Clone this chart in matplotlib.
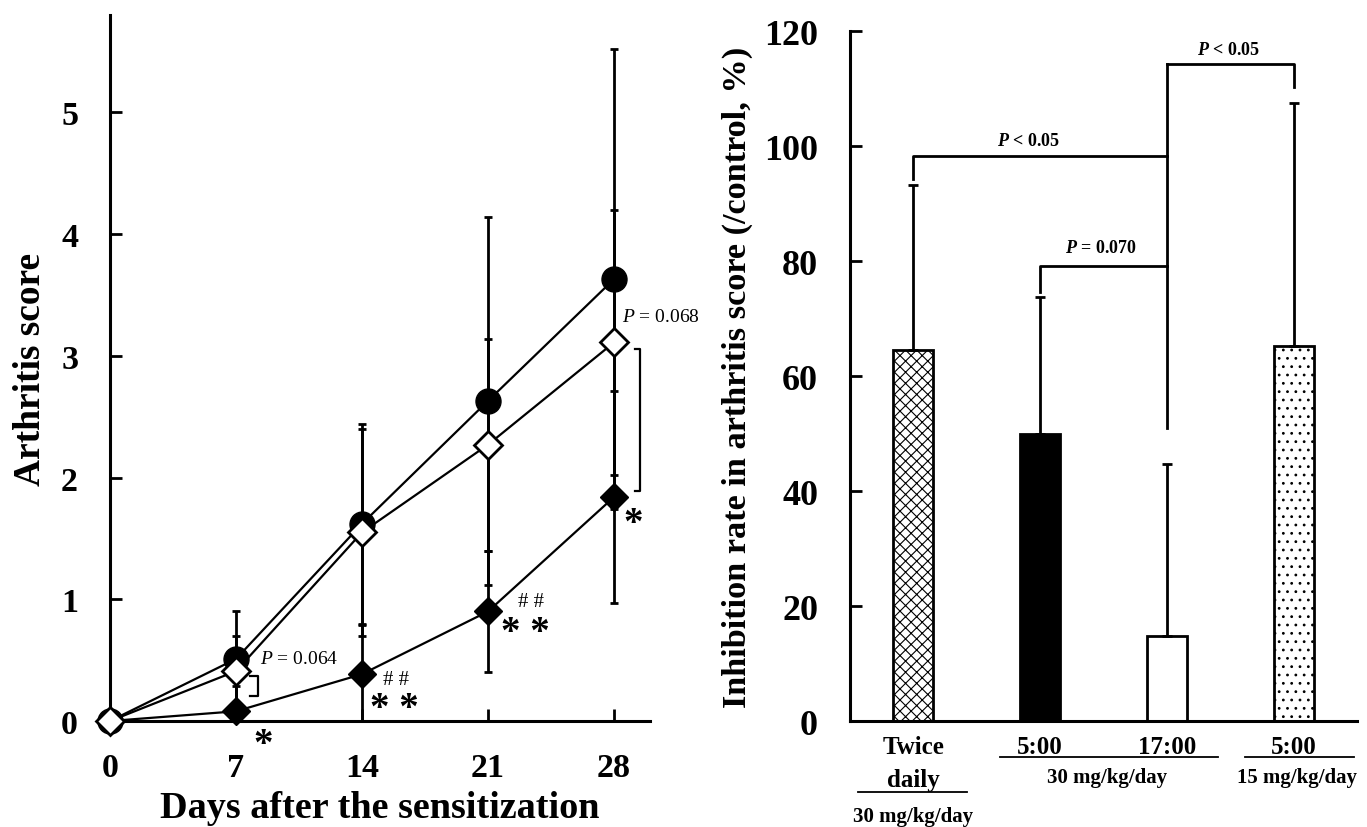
import numpy as np
import matplotlib
matplotlib.use('Agg')
import matplotlib.pyplot as plt
from matplotlib.transforms import blended_transform_factory

plt.rcParams['font.family'] = ['Liberation Serif', 'DejaVu Serif']
plt.rcParams['font.weight'] = 'bold'
plt.rcParams['axes.labelweight'] = 'bold'
plt.rcParams['mathtext.fontset'] = 'custom'
plt.rcParams['mathtext.it'] = 'Liberation Serif:italic:normal'
plt.rcParams['mathtext.bfit'] = 'Liberation Serif:italic:bold'
plt.rcParams['hatch.linewidth'] = 0.8

# left panel: arthritis score over time
days = [0, 7, 14, 21, 28]
score_control = [0, 0.51, 1.62, 2.63, 3.63]
sd_control = [0, 0.39, 0.82, 1.51, 1.89]
score_1700 = [0, 0.41, 1.55, 2.27, 3.11]
sd_1700 = [0, 0.29, 0.85, 0.87, 1.09]
score_0500 = [0, 0.08, 0.385, 0.90, 1.84]
sd_0500 = [0, 0.21, 0.40, 0.50, 0.87]

# right panel: inhibition rate
groups = ['Twice\ndaily', '5:00', '17:00', '5:00']
inhibition = [64.5, 49.9, 14.7, 65.3]
inhibition_sd = [28.7, 23.8, 30.0, 42.2]
bar_colors = ['white', 'black', 'white', 'white']
bar_hatches = ['xxx', None, None, '..']

fig = plt.figure(figsize=(13.67, 8.28), dpi=100)

# ---- left ----
ax1 = fig.add_axes([0.0805, 0.128, 0.395, 0.8527])
for y, e in [(score_control, sd_control), (score_0500, sd_0500), (score_1700, sd_1700)]:
    ax1.errorbar(days, y, yerr=e, fmt='none', ecolor='black', elinewidth=2,
                 capsize=3.2, capthick=2, zorder=2)
ax1.plot(days, score_control, '-o', color='black', ms=18, lw=1.6, zorder=3, clip_on=False)
ax1.plot(days, score_0500, '-D', color='black', ms=14, lw=1.6, zorder=4, clip_on=False)
ax1.plot(days, score_1700, '-D', color='black', mfc='white', mec='black', mew=2,
         ms=14, lw=1.6, zorder=5, clip_on=False)

ax1.set_xlim(0, 30)
ax1.set_ylim(0, 5.8)
ax1.set_xticks(days)
ax1.set_yticks(range(6))
for s in ['top', 'right']:
    ax1.spines[s].set_visible(False)
for s in ['left', 'bottom']:
    ax1.spines[s].set_linewidth(2.2)
ax1.tick_params(axis='both', direction='in', length=8.5, width=2, labelsize=24.5)
ax1.tick_params(axis='x', pad=22)
ax1.tick_params(axis='y', pad=23)
ax1.set_xlabel('Days after the sensitization', fontsize=27.5)
ax1.xaxis.set_label_coords(0.5, -0.123)
ax1.xaxis.label.set_va('center')
ax1.set_ylabel('Arthritis score', fontsize=27)
ax1.yaxis.set_label_coords(-0.148, 0.5)
ax1.yaxis.label.set_va('center')

# significance marks
ax1.text(8.33, 0.51, r'$P$ = 0.064', fontsize=14, fontweight='normal', ha='left', va='center')
ax1.plot([7.78, 8.22, 8.22, 7.78], [0.37, 0.37, 0.205, 0.205], color='black', lw=1.6, clip_on=False)
ax1.text(8.5, -0.19, '*', fontsize=28, ha='center', va='center', clip_on=False)
ax1.text(15.9, 0.345, '# #', fontsize=15, fontweight='normal', ha='center', va='center')
ax1.text(15.8, 0.10, '* *', fontsize=28, ha='center', va='center')
ax1.text(23.4, 0.98, '# #', fontsize=15, fontweight='normal', ha='center', va='center')
ax1.text(23.1, 0.73, '* *', fontsize=28, ha='center', va='center')
ax1.text(29.05, 1.62, '*', fontsize=28, ha='center', va='center', clip_on=False)
ax1.text(28.45, 3.32, r'$P$ = 0.068', fontsize=14, fontweight='normal', ha='left', va='center',
         clip_on=False)
ax1.plot([29.17, 29.45, 29.45, 29.17], [3.06, 3.06, 1.89, 1.89], color='black', lw=1.6, clip_on=False)

# ---- right ----
ax2 = fig.add_axes([0.6218, 0.128, 0.3709, 0.8333])
x = np.arange(len(groups))
ax2.bar(x, inhibition, width=0.316, color=bar_colors, edgecolor='black', linewidth=2,
        hatch=bar_hatches, zorder=2)
ax2.errorbar(x, inhibition, yerr=[np.zeros(len(x)), inhibition_sd], fmt='none', ecolor='black',
             elinewidth=2, capsize=3.5, capthick=2, zorder=3)
ax2.set_xlim(-0.5, 3.5)
ax2.set_ylim(0, 120)
ax2.set_yticks(range(0, 121, 20))
ax2.set_xticks(x, groups)
for s in ['top', 'right']:
    ax2.spines[s].set_visible(False)
for s in ['left', 'bottom']:
    ax2.spines[s].set_linewidth(2.2)
ax2.tick_params(axis='y', direction='in', length=8.5, width=2, labelsize=26, pad=23)
ax2.tick_params(axis='x', length=0, labelsize=18, pad=10)
for lbl in ax2.get_xticklabels():
    lbl.set_linespacing(1.55)
ax2.set_ylabel('Inhibition rate in arthritis score (/control, %)', fontsize=24.7)
ax2.yaxis.set_label_coords(-0.223, 0.5)
ax2.yaxis.label.set_va('center')

# comparison brackets
lw_b = 2
ax2.plot([2, 2], [51, 114.2], color='black', lw=lw_b)
ax2.plot([0, 0, 2], [94.2, 98.3, 98.3], color='black', lw=lw_b)
ax2.plot([1, 1, 2], [74.6, 79.2, 79.2], color='black', lw=lw_b)
ax2.plot([2, 3, 3], [114.2, 114.2, 110.2], color='black', lw=lw_b)
ax2.text(0.91, 100.9, r'$\mathbfit{P}$ < 0.05', fontsize=13, ha='center', va='center')
ax2.text(1.48, 82.4, r'$\mathbfit{P}$ = 0.070', fontsize=13, ha='center', va='center')
ax2.text(2.49, 116.8, r'$\mathbfit{P}$ < 0.05', fontsize=13, ha='center', va='center')

# dose group labels under the axis
tr = blended_transform_factory(ax2.transData, ax2.transAxes)
ax2.plot([-0.434, 0.426], [-0.1029, -0.1029], color='black', lw=1.3, transform=tr, clip_on=False)
ax2.text(0, -0.1377, '30 mg/kg/day', fontsize=15, ha='center', va='center', transform=tr)
ax2.plot([0.687, 2.40], [-0.0522, -0.0522], color='black', lw=1.3, transform=tr, clip_on=False)
ax2.text(1.53, -0.0812, '30 mg/kg/day', fontsize=15, ha='center', va='center', transform=tr)
ax2.plot([2.62, 3.48], [-0.0522, -0.0522], color='black', lw=1.3, transform=tr, clip_on=False)
ax2.text(3.03, -0.0812, '15 mg/kg/day', fontsize=15, ha='center', va='center', transform=tr)

fig.savefig('out.png', dpi=100)
